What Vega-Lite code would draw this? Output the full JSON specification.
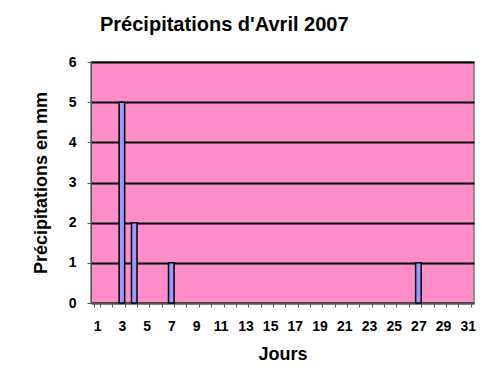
{
  "$schema": "https://vega.github.io/schema/vega-lite/v6.json",
  "width": 383,
  "height": 241,
  "autosize": {"type": "none"},
  "padding": {"left": 91, "top": 62, "right": 7, "bottom": 73},
  "background": "white",
  "title": {
    "text": "Précipitations d'Avril 2007",
    "anchor": "start",
    "frame": "group",
    "dx": 9,
    "offset": 20,
    "font": "Liberation Sans",
    "fontSize": 20,
    "fontWeight": "bold",
    "color": "black"
  },
  "data": {
    "values": [
      {"jour": 3, "mm": 5},
      {"jour": 4, "mm": 2},
      {"jour": 7, "mm": 1},
      {"jour": 27, "mm": 1}
    ]
  },
  "mark": {"type": "bar", "color": "#9999FF", "stroke": "black", "strokeWidth": 1.5},
  "encoding": {
    "x": {
      "field": "jour",
      "type": "ordinal",
      "scale": {
        "domain": [1,2,3,4,5,6,7,8,9,10,11,12,13,14,15,16,17,18,19,20,21,22,23,24,25,26,27,28,29,30,31],
        "paddingInner": 0.55,
        "paddingOuter": 0.275
      },
      "axis": {
        "title": "Jours",
        "labelAngle": 0,
        "labelExpr": "datum.value % 2 == 1 ? datum.label : ''",
        "tickBand": "extent",
        "tickSize": 4,
        "tickColor": "#555",
        "domainColor": "#555",
        "labelPadding": 12,
        "labelFont": "Liberation Sans",
        "labelFontSize": 14,
        "labelFontWeight": "bold",
        "labelColor": "black",
        "titleFont": "Liberation Sans",
        "titleFontSize": 18,
        "titleFontWeight": "bold",
        "titleColor": "black",
        "titlePadding": 12
      }
    },
    "y": {
      "field": "mm",
      "type": "quantitative",
      "scale": {"domain": [0, 6], "nice": false},
      "axis": {
        "title": "Précipitations en mm",
        "values": [0,1,2,3,4,5,6],
        "grid": true,
        "gridColor": "black",
        "gridWidth": 2,
        "gridOpacity": 1,
        "tickSize": 4,
        "tickColor": "#555",
        "domainColor": "#555",
        "labelPadding": 11,
        "labelFont": "Liberation Sans",
        "labelFontSize": 14,
        "labelFontWeight": "bold",
        "labelColor": "black",
        "titleFont": "Liberation Sans",
        "titleFontSize": 18,
        "titleFontWeight": "bold",
        "titleColor": "black",
        "titlePadding": 18
      }
    }
  },
  "config": {
    "view": {"fill": "#FF8EC8", "stroke": "#777", "strokeWidth": 1.5}
  }
}
